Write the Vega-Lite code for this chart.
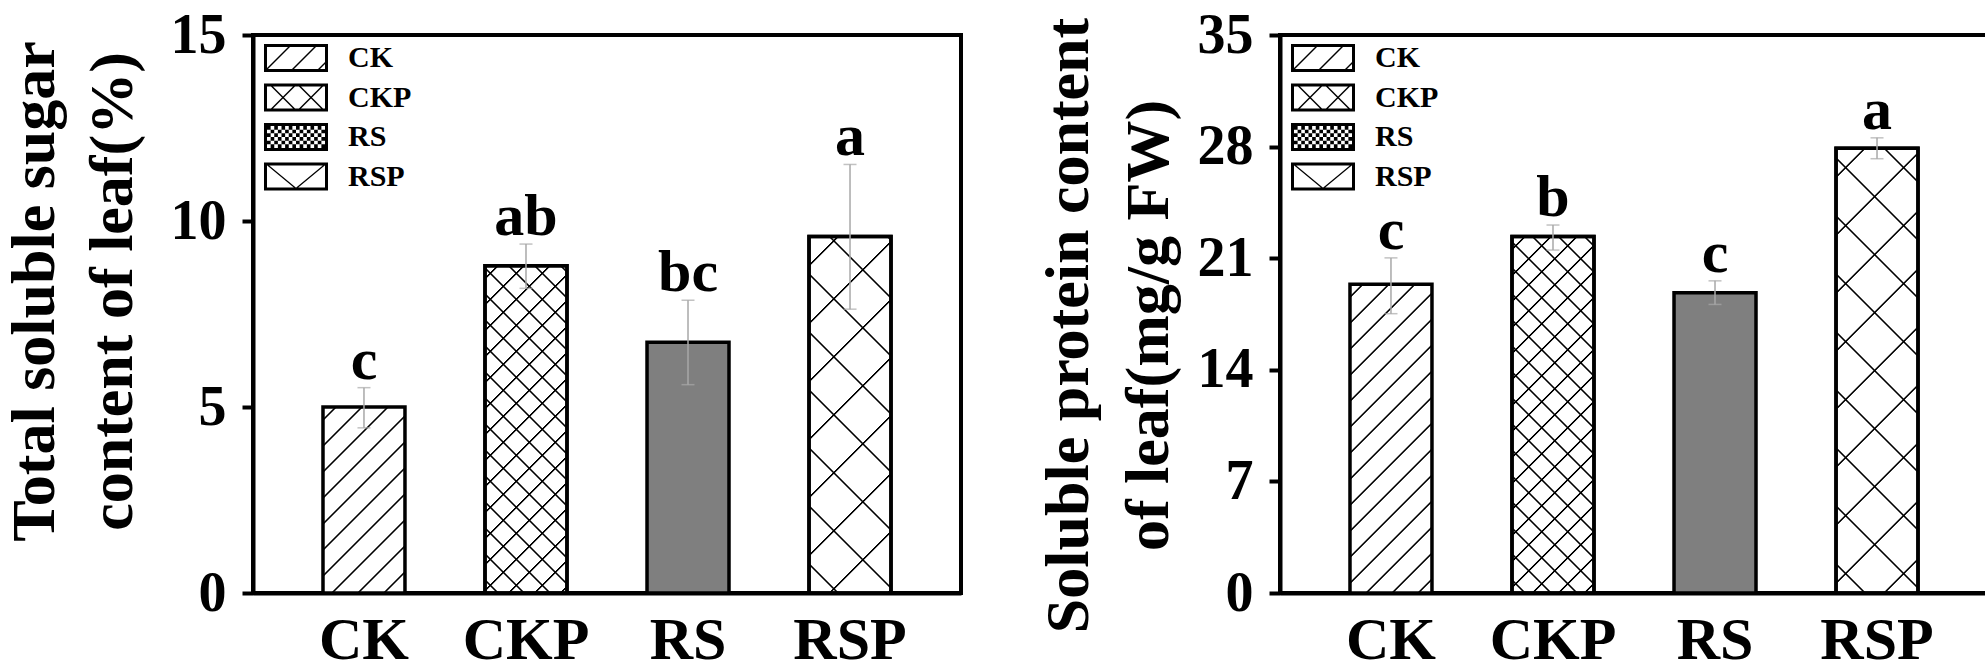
{
  "$schema": "https://vega.github.io/schema/vega-lite/v6.json",
  "padding": {"left": 0, "top": 5, "right": 0, "bottom": 0},
  "background": "white",
  "params": [
    {"name": "dW", "value": [
      {"offset":0,"color":"#fff"},
      {"offset":0.02111,"color":"#fff"},{"offset":0.02296,"color":"#000"},{"offset":0.02519,"color":"#000"},{"offset":0.02704,"color":"#fff"},
      {"offset":0.06926,"color":"#fff"},{"offset":0.07111,"color":"#000"},{"offset":0.07333,"color":"#000"},{"offset":0.07519,"color":"#fff"},
      {"offset":0.11741,"color":"#fff"},{"offset":0.11926,"color":"#000"},{"offset":0.12148,"color":"#000"},{"offset":0.12333,"color":"#fff"},
      {"offset":0.16556,"color":"#fff"},{"offset":0.16741,"color":"#000"},{"offset":0.16963,"color":"#000"},{"offset":0.17148,"color":"#fff"},
      {"offset":0.2137,"color":"#fff"},{"offset":0.21556,"color":"#000"},{"offset":0.21778,"color":"#000"},{"offset":0.21963,"color":"#fff"},
      {"offset":0.26185,"color":"#fff"},{"offset":0.2637,"color":"#000"},{"offset":0.26593,"color":"#000"},{"offset":0.26778,"color":"#fff"},
      {"offset":0.31,"color":"#fff"},{"offset":0.31185,"color":"#000"},{"offset":0.31407,"color":"#000"},{"offset":0.31593,"color":"#fff"},
      {"offset":0.35815,"color":"#fff"},{"offset":0.36,"color":"#000"},{"offset":0.36222,"color":"#000"},{"offset":0.36407,"color":"#fff"},
      {"offset":0.4063,"color":"#fff"},{"offset":0.40815,"color":"#000"},{"offset":0.41037,"color":"#000"},{"offset":0.41222,"color":"#fff"},
      {"offset":0.45444,"color":"#fff"},{"offset":0.4563,"color":"#000"},{"offset":0.45852,"color":"#000"},{"offset":0.46037,"color":"#fff"},
      {"offset":0.50259,"color":"#fff"},{"offset":0.50444,"color":"#000"},{"offset":0.50667,"color":"#000"},{"offset":0.50852,"color":"#fff"},
      {"offset":0.55074,"color":"#fff"},{"offset":0.55259,"color":"#000"},{"offset":0.55481,"color":"#000"},{"offset":0.55667,"color":"#fff"},
      {"offset":0.59889,"color":"#fff"},{"offset":0.60074,"color":"#000"},{"offset":0.60296,"color":"#000"},{"offset":0.60481,"color":"#fff"},
      {"offset":0.64704,"color":"#fff"},{"offset":0.64889,"color":"#000"},{"offset":0.65111,"color":"#000"},{"offset":0.65296,"color":"#fff"},
      {"offset":0.69519,"color":"#fff"},{"offset":0.69704,"color":"#000"},{"offset":0.69926,"color":"#000"},{"offset":0.70111,"color":"#fff"},
      {"offset":0.74333,"color":"#fff"},{"offset":0.74519,"color":"#000"},{"offset":0.74741,"color":"#000"},{"offset":0.74926,"color":"#fff"},
      {"offset":0.79148,"color":"#fff"},{"offset":0.79333,"color":"#000"},{"offset":0.79556,"color":"#000"},{"offset":0.79741,"color":"#fff"},
      {"offset":0.83963,"color":"#fff"},{"offset":0.84148,"color":"#000"},{"offset":0.8437,"color":"#000"},{"offset":0.84556,"color":"#fff"},
      {"offset":0.88778,"color":"#fff"},{"offset":0.88963,"color":"#000"},{"offset":0.89185,"color":"#000"},{"offset":0.8937,"color":"#fff"},
      {"offset":0.93593,"color":"#fff"},{"offset":0.93778,"color":"#000"},{"offset":0.94,"color":"#000"},{"offset":0.94185,"color":"#fff"},
      {"offset":0.98407,"color":"#fff"},{"offset":0.98593,"color":"#000"},{"offset":0.98815,"color":"#000"},{"offset":0.99,"color":"#fff"}
    ]},
    {"name": "dT", "value": [
      {"offset":0,"color":"transparent"},
      {"offset":0.02111,"color":"transparent"},{"offset":0.02296,"color":"#000"},{"offset":0.02519,"color":"#000"},{"offset":0.02704,"color":"transparent"},
      {"offset":0.06926,"color":"transparent"},{"offset":0.07111,"color":"#000"},{"offset":0.07333,"color":"#000"},{"offset":0.07519,"color":"transparent"},
      {"offset":0.11741,"color":"transparent"},{"offset":0.11926,"color":"#000"},{"offset":0.12148,"color":"#000"},{"offset":0.12333,"color":"transparent"},
      {"offset":0.16556,"color":"transparent"},{"offset":0.16741,"color":"#000"},{"offset":0.16963,"color":"#000"},{"offset":0.17148,"color":"transparent"},
      {"offset":0.2137,"color":"transparent"},{"offset":0.21556,"color":"#000"},{"offset":0.21778,"color":"#000"},{"offset":0.21963,"color":"transparent"},
      {"offset":0.26185,"color":"transparent"},{"offset":0.2637,"color":"#000"},{"offset":0.26593,"color":"#000"},{"offset":0.26778,"color":"transparent"},
      {"offset":0.31,"color":"transparent"},{"offset":0.31185,"color":"#000"},{"offset":0.31407,"color":"#000"},{"offset":0.31593,"color":"transparent"},
      {"offset":0.35815,"color":"transparent"},{"offset":0.36,"color":"#000"},{"offset":0.36222,"color":"#000"},{"offset":0.36407,"color":"transparent"},
      {"offset":0.4063,"color":"transparent"},{"offset":0.40815,"color":"#000"},{"offset":0.41037,"color":"#000"},{"offset":0.41222,"color":"transparent"},
      {"offset":0.45444,"color":"transparent"},{"offset":0.4563,"color":"#000"},{"offset":0.45852,"color":"#000"},{"offset":0.46037,"color":"transparent"},
      {"offset":0.50259,"color":"transparent"},{"offset":0.50444,"color":"#000"},{"offset":0.50667,"color":"#000"},{"offset":0.50852,"color":"transparent"},
      {"offset":0.55074,"color":"transparent"},{"offset":0.55259,"color":"#000"},{"offset":0.55481,"color":"#000"},{"offset":0.55667,"color":"transparent"},
      {"offset":0.59889,"color":"transparent"},{"offset":0.60074,"color":"#000"},{"offset":0.60296,"color":"#000"},{"offset":0.60481,"color":"transparent"},
      {"offset":0.64704,"color":"transparent"},{"offset":0.64889,"color":"#000"},{"offset":0.65111,"color":"#000"},{"offset":0.65296,"color":"transparent"},
      {"offset":0.69519,"color":"transparent"},{"offset":0.69704,"color":"#000"},{"offset":0.69926,"color":"#000"},{"offset":0.70111,"color":"transparent"},
      {"offset":0.74333,"color":"transparent"},{"offset":0.74519,"color":"#000"},{"offset":0.74741,"color":"#000"},{"offset":0.74926,"color":"transparent"},
      {"offset":0.79148,"color":"transparent"},{"offset":0.79333,"color":"#000"},{"offset":0.79556,"color":"#000"},{"offset":0.79741,"color":"transparent"},
      {"offset":0.83963,"color":"transparent"},{"offset":0.84148,"color":"#000"},{"offset":0.8437,"color":"#000"},{"offset":0.84556,"color":"transparent"},
      {"offset":0.88778,"color":"transparent"},{"offset":0.88963,"color":"#000"},{"offset":0.89185,"color":"#000"},{"offset":0.8937,"color":"transparent"},
      {"offset":0.93593,"color":"transparent"},{"offset":0.93778,"color":"#000"},{"offset":0.94,"color":"#000"},{"offset":0.94185,"color":"transparent"},
      {"offset":0.98407,"color":"transparent"},{"offset":0.98593,"color":"#000"},{"offset":0.98815,"color":"#000"},{"offset":0.99,"color":"transparent"}
    ]},
    {"name": "sW", "value": [
      {"offset":0,"color":"#fff"},
      {"offset":0.05074,"color":"#fff"},{"offset":0.05259,"color":"#000"},{"offset":0.05481,"color":"#000"},{"offset":0.05667,"color":"#fff"},
      {"offset":0.15815,"color":"#fff"},{"offset":0.16,"color":"#000"},{"offset":0.16222,"color":"#000"},{"offset":0.16407,"color":"#fff"},
      {"offset":0.26556,"color":"#fff"},{"offset":0.26741,"color":"#000"},{"offset":0.26963,"color":"#000"},{"offset":0.27148,"color":"#fff"},
      {"offset":0.37296,"color":"#fff"},{"offset":0.37481,"color":"#000"},{"offset":0.37704,"color":"#000"},{"offset":0.37889,"color":"#fff"},
      {"offset":0.48037,"color":"#fff"},{"offset":0.48222,"color":"#000"},{"offset":0.48444,"color":"#000"},{"offset":0.4863,"color":"#fff"},
      {"offset":0.58778,"color":"#fff"},{"offset":0.58963,"color":"#000"},{"offset":0.59185,"color":"#000"},{"offset":0.5937,"color":"#fff"},
      {"offset":0.69519,"color":"#fff"},{"offset":0.69704,"color":"#000"},{"offset":0.69926,"color":"#000"},{"offset":0.70111,"color":"#fff"},
      {"offset":0.80259,"color":"#fff"},{"offset":0.80444,"color":"#000"},{"offset":0.80667,"color":"#000"},{"offset":0.80852,"color":"#fff"},
      {"offset":0.91,"color":"#fff"},{"offset":0.91185,"color":"#000"},{"offset":0.91407,"color":"#000"},{"offset":0.91593,"color":"#fff"}
    ]},
    {"name": "sT", "value": [
      {"offset":0,"color":"transparent"},
      {"offset":0.05074,"color":"transparent"},{"offset":0.05259,"color":"#000"},{"offset":0.05481,"color":"#000"},{"offset":0.05667,"color":"transparent"},
      {"offset":0.15815,"color":"transparent"},{"offset":0.16,"color":"#000"},{"offset":0.16222,"color":"#000"},{"offset":0.16407,"color":"transparent"},
      {"offset":0.26556,"color":"transparent"},{"offset":0.26741,"color":"#000"},{"offset":0.26963,"color":"#000"},{"offset":0.27148,"color":"transparent"},
      {"offset":0.37296,"color":"transparent"},{"offset":0.37481,"color":"#000"},{"offset":0.37704,"color":"#000"},{"offset":0.37889,"color":"transparent"},
      {"offset":0.48037,"color":"transparent"},{"offset":0.48222,"color":"#000"},{"offset":0.48444,"color":"#000"},{"offset":0.4863,"color":"transparent"},
      {"offset":0.58778,"color":"transparent"},{"offset":0.58963,"color":"#000"},{"offset":0.59185,"color":"#000"},{"offset":0.5937,"color":"transparent"},
      {"offset":0.69519,"color":"transparent"},{"offset":0.69704,"color":"#000"},{"offset":0.69926,"color":"#000"},{"offset":0.70111,"color":"transparent"},
      {"offset":0.80259,"color":"transparent"},{"offset":0.80444,"color":"#000"},{"offset":0.80667,"color":"#000"},{"offset":0.80852,"color":"transparent"},
      {"offset":0.91,"color":"transparent"},{"offset":0.91185,"color":"#000"},{"offset":0.91407,"color":"#000"},{"offset":0.91593,"color":"transparent"}
    ]}
  ],
  "datasets": {
    "sugar": [
      {"g": "CK", "v": 5.0, "lo": 4.44, "hi": 5.52, "lab": "c"},
      {"g": "CKP", "v": 8.8, "lo": 8.19, "hi": 9.38, "lab": "ab"},
      {"g": "RS", "v": 6.74, "lo": 5.6, "hi": 7.87, "lab": "bc"},
      {"g": "RSP", "v": 9.58, "lo": 7.63, "hi": 11.52, "lab": "a"}
    ],
    "protein": [
      {"g": "CK", "v": 19.37, "lo": 17.52, "hi": 21.02, "lab": "c"},
      {"g": "CKP", "v": 22.36, "lo": 21.51, "hi": 23.08, "lab": "b"},
      {"g": "RS", "v": 18.84, "lo": 18.1, "hi": 19.58, "lab": "c"},
      {"g": "RSP", "v": 27.9, "lo": 27.24, "hi": 28.55, "lab": "a"}
    ]
  },
  "spacing": 71,
  "resolve": {"scale": {"shape": "independent"}, "legend": {"shape": "independent"}},
  "hconcat": [
    {
      "width": 708,
      "height": 558,
      "data": {"name": "sugar"},
      "encoding": {
        "x": {"field": "g", "type": "nominal", "scale": {"paddingInner": 0.494, "paddingOuter": 0.432},
              "axis": {"title": null, "labelAngle": 0, "ticks": false, "labelFontSize": 60, "labelPadding": 18}}
      },
      "layer": [
        {
          "mark": {"type": "bar", "stroke": "black", "strokeWidth": 3.5,
            "fill": {"expr": "datum.g == 'RS' ? '#7f7f7f' : {gradient: 'linear', x1: 0, y1: 0, x2: 44280 / (6724 + pow(datum.v * 37.2, 2)), y2: 540 * datum.v * 37.2 / (6724 + pow(datum.v * 37.2, 2)), stops: datum.g == 'RSP' ? sW : dW}"}},
          "encoding": {
            "y": {"field": "v", "type": "quantitative", "scale": {"domain": [0, 15], "nice": false},
                  "axis": {"title": ["Total soluble sugar", "content of leaf(%)"], "values": [0, 5, 10, 15], "titleX": -187, "titleY": 256, "titleLineHeight": 78}}
          }
        },
        {
          "transform": [{"filter": {"field": "g", "oneOf": ["CKP", "RSP"]}}],
          "mark": {"type": "bar", "stroke": "black", "strokeWidth": 3.5,
            "fill": {"expr": "{gradient: 'linear', x1: 0, y1: 1, x2: 44280 / (6724 + pow(datum.v * 37.2, 2)), y2: 1 - 540 * datum.v * 37.2 / (6724 + pow(datum.v * 37.2, 2)), stops: datum.g == 'RSP' ? sT : dT}"}},
          "encoding": {"y": {"field": "v", "type": "quantitative",
                  "axis": {"title": ["Total soluble sugar", "content of leaf(%)"], "values": [0, 5, 10, 15], "titleX": -187, "titleY": 256, "titleLineHeight": 78}}}
        },
        {
          "mark": {"type": "errorbar", "color": "#a8a8a8", "thickness": 1.5, "ticks": {"size": 13}},
          "encoding": {"y": {"field": "lo", "type": "quantitative",
                  "axis": {"title": ["Total soluble sugar", "content of leaf(%)"], "values": [0, 5, 10, 15], "titleX": -187, "titleY": 256, "titleLineHeight": 78}}, "y2": {"field": "hi"}}
        },
        {
          "mark": {"type": "text", "dy": -9, "baseline": "alphabetic", "fontSize": 60, "fontWeight": "bold", "font": "Liberation Serif", "color": "black"},
          "encoding": {"y": {"field": "hi", "type": "quantitative",
                  "axis": {"title": ["Total soluble sugar", "content of leaf(%)"], "values": [0, 5, 10, 15], "titleX": -187, "titleY": 256, "titleLineHeight": 78}}, "text": {"field": "lab"}}
        },
        {
          "mark": {"type": "point", "filled": true, "opacity": 0, "color": "black"},
          "encoding": {
            "y": {"field": "v", "type": "quantitative",
                  "axis": {"title": ["Total soluble sugar", "content of leaf(%)"], "values": [0, 5, 10, 15], "titleX": -187, "titleY": 256, "titleLineHeight": 78}},
            "shape": {"field": "g", "type": "nominal",
              "scale": {"domain": ["CK", "CKP", "RS", "RSP"], "range": [
                "M-2.2857,-1H2.2857V1H-2.2857ZM-2.0714,-0.7857V0.7857H2.0714V-0.7857ZM-2.2143,0.8571L-0.5,-0.8571L-0.3571,-0.8571L-2.0714,0.8571ZM-0.3571,0.8571L1.3571,-0.8571L1.5,-0.8571L-0.2143,0.8571ZM1.5,0.8571L2.2143,0.1429L2.2143,0.2857L1.6429,0.8571Z",
                "M-2.2857,-1H2.2857V1H-2.2857ZM-2.0714,-0.7857V0.7857H2.0714V-0.7857ZM-1.8571,0.8571L-0.1429,-0.8571L0,-0.8571L-1.7143,0.8571ZM0.1429,0.8571L1.8571,-0.8571L2,-0.8571L0.2857,0.8571ZM-1.8571,-0.8571L-1.7143,-0.8571L0,0.8571L-0.1429,0.8571ZM0.1429,-0.8571L0.2857,-0.8571L2,0.8571L1.8571,0.8571Z",
                "M-2.2857,-1H2.2857V1H-2.2857ZM-2.0714,-0.7857V0.7857H2.0714V-0.7857ZM-2.0714,-0.7857h0.2589v0.2619h-0.2589v-0.2619zm0.5179,0h0.2589v0.2619h-0.2589v-0.2619zm0.5179,0h0.2589v0.2619h-0.2589v-0.2619zm0.5179,0h0.2589v0.2619h-0.2589v-0.2619zm0.5179,0h0.2589v0.2619h-0.2589v-0.2619zm0.5179,0h0.2589v0.2619h-0.2589v-0.2619zm0.5179,0h0.2589v0.2619h-0.2589v-0.2619zm0.5179,0h0.2589v0.2619h-0.2589v-0.2619zM-1.8125,-0.5238h0.2589v0.2619h-0.2589v-0.2619zm0.5179,0h0.2589v0.2619h-0.2589v-0.2619zm0.5179,0h0.2589v0.2619h-0.2589v-0.2619zm0.5179,0h0.2589v0.2619h-0.2589v-0.2619zm0.5179,0h0.2589v0.2619h-0.2589v-0.2619zm0.5179,0h0.2589v0.2619h-0.2589v-0.2619zm0.5179,0h0.2589v0.2619h-0.2589v-0.2619zm0.5179,0h0.2589v0.2619h-0.2589v-0.2619zM-2.0714,-0.2619h0.2589v0.2619h-0.2589v-0.2619zm0.5179,0h0.2589v0.2619h-0.2589v-0.2619zm0.5179,0h0.2589v0.2619h-0.2589v-0.2619zm0.5179,0h0.2589v0.2619h-0.2589v-0.2619zm0.5179,0h0.2589v0.2619h-0.2589v-0.2619zm0.5179,0h0.2589v0.2619h-0.2589v-0.2619zm0.5179,0h0.2589v0.2619h-0.2589v-0.2619zm0.5179,0h0.2589v0.2619h-0.2589v-0.2619zM-1.8125,0h0.2589v0.2619h-0.2589v-0.2619zm0.5179,0h0.2589v0.2619h-0.2589v-0.2619zm0.5179,0h0.2589v0.2619h-0.2589v-0.2619zm0.5179,0h0.2589v0.2619h-0.2589v-0.2619zm0.5179,0h0.2589v0.2619h-0.2589v-0.2619zm0.5179,0h0.2589v0.2619h-0.2589v-0.2619zm0.5179,0h0.2589v0.2619h-0.2589v-0.2619zm0.5179,0h0.2589v0.2619h-0.2589v-0.2619zM-2.0714,0.2619h0.2589v0.2619h-0.2589v-0.2619zm0.5179,0h0.2589v0.2619h-0.2589v-0.2619zm0.5179,0h0.2589v0.2619h-0.2589v-0.2619zm0.5179,0h0.2589v0.2619h-0.2589v-0.2619zm0.5179,0h0.2589v0.2619h-0.2589v-0.2619zm0.5179,0h0.2589v0.2619h-0.2589v-0.2619zm0.5179,0h0.2589v0.2619h-0.2589v-0.2619zm0.5179,0h0.2589v0.2619h-0.2589v-0.2619zM-1.8125,0.5238h0.2589v0.2619h-0.2589v-0.2619zm0.5179,0h0.2589v0.2619h-0.2589v-0.2619zm0.5179,0h0.2589v0.2619h-0.2589v-0.2619zm0.5179,0h0.2589v0.2619h-0.2589v-0.2619zm0.5179,0h0.2589v0.2619h-0.2589v-0.2619zm0.5179,0h0.2589v0.2619h-0.2589v-0.2619zm0.5179,0h0.2589v0.2619h-0.2589v-0.2619zm0.5179,0h0.2589v0.2619h-0.2589v-0.2619z",
                "M-2.2857,-1H2.2857V1H-2.2857ZM-2.0714,-0.7857V0.7857H2.0714V-0.7857ZM-2.1429,-0.8571L-2,-0.8571L0.0714,0.8571L-0.0714,0.8571ZM-0.0714,0.8571L2,-0.8571L2.1429,-0.8571L0.0714,0.8571Z"
              ]},
              "legend": {"title": null, "orient": "none", "legendX": 10, "legendY": 8, "symbolSize": 784, "symbolOffset": 18, "labelOffset": 37, "rowPadding": 9.5, "padding": 0,
                         "labelFont": "Liberation Serif", "labelFontSize": 30, "labelFontWeight": "bold", "labelColor": "black",
                         "symbolOpacity": 1, "symbolStrokeWidth": 0, "symbolFillColor": "black"}
            }
          }
        }
      ]
    },
    {
      "width": 708,
      "height": 558,
      "data": {"name": "protein"},
      "encoding": {
        "x": {"field": "g", "type": "nominal", "scale": {"paddingInner": 0.494, "paddingOuter": 0.432},
              "axis": {"title": null, "labelAngle": 0, "ticks": false, "labelFontSize": 60, "labelPadding": 18}}
      },
      "layer": [
        {
          "mark": {"type": "bar", "stroke": "black", "strokeWidth": 3.5,
            "fill": {"expr": "datum.g == 'RS' ? '#7f7f7f' : {gradient: 'linear', x1: 0, y1: 0, x2: 44280 / (6724 + pow(datum.v * 15.943, 2)), y2: 540 * datum.v * 15.943 / (6724 + pow(datum.v * 15.943, 2)), stops: datum.g == 'RSP' ? sW : dW}"}},
          "encoding": {
            "y": {"field": "v", "type": "quantitative", "scale": {"domain": [0, 35], "nice": false},
                  "axis": {"title": ["Soluble protein content", "of leaf(mg/g FW)"], "values": [0, 7, 14, 21, 28, 35], "titleX": -180, "titleY": 290, "titleLineHeight": 80}}
          }
        },
        {
          "transform": [{"filter": {"field": "g", "oneOf": ["CKP", "RSP"]}}],
          "mark": {"type": "bar", "stroke": "black", "strokeWidth": 3.5,
            "fill": {"expr": "{gradient: 'linear', x1: 0, y1: 1, x2: 44280 / (6724 + pow(datum.v * 15.943, 2)), y2: 1 - 540 * datum.v * 15.943 / (6724 + pow(datum.v * 15.943, 2)), stops: datum.g == 'RSP' ? sT : dT}"}},
          "encoding": {"y": {"field": "v", "type": "quantitative",
                  "axis": {"title": ["Soluble protein content", "of leaf(mg/g FW)"], "values": [0, 7, 14, 21, 28, 35], "titleX": -180, "titleY": 290, "titleLineHeight": 80}}}
        },
        {
          "mark": {"type": "errorbar", "color": "#a8a8a8", "thickness": 1.5, "ticks": {"size": 13}},
          "encoding": {"y": {"field": "lo", "type": "quantitative",
                  "axis": {"title": ["Soluble protein content", "of leaf(mg/g FW)"], "values": [0, 7, 14, 21, 28, 35], "titleX": -180, "titleY": 290, "titleLineHeight": 80}}, "y2": {"field": "hi"}}
        },
        {
          "mark": {"type": "text", "dy": -9, "baseline": "alphabetic", "fontSize": 60, "fontWeight": "bold", "font": "Liberation Serif", "color": "black"},
          "encoding": {"y": {"field": "hi", "type": "quantitative",
                  "axis": {"title": ["Soluble protein content", "of leaf(mg/g FW)"], "values": [0, 7, 14, 21, 28, 35], "titleX": -180, "titleY": 290, "titleLineHeight": 80}}, "text": {"field": "lab"}}
        },
        {
          "mark": {"type": "point", "filled": true, "opacity": 0, "color": "black"},
          "encoding": {
            "y": {"field": "v", "type": "quantitative",
                  "axis": {"title": ["Soluble protein content", "of leaf(mg/g FW)"], "values": [0, 7, 14, 21, 28, 35], "titleX": -180, "titleY": 290, "titleLineHeight": 80}},
            "shape": {"field": "g", "type": "nominal",
              "scale": {"domain": ["CK", "CKP", "RS", "RSP"], "range": [
                "M-2.2857,-1H2.2857V1H-2.2857ZM-2.0714,-0.7857V0.7857H2.0714V-0.7857ZM-2.2143,0.8571L-0.5,-0.8571L-0.3571,-0.8571L-2.0714,0.8571ZM-0.3571,0.8571L1.3571,-0.8571L1.5,-0.8571L-0.2143,0.8571ZM1.5,0.8571L2.2143,0.1429L2.2143,0.2857L1.6429,0.8571Z",
                "M-2.2857,-1H2.2857V1H-2.2857ZM-2.0714,-0.7857V0.7857H2.0714V-0.7857ZM-1.8571,0.8571L-0.1429,-0.8571L0,-0.8571L-1.7143,0.8571ZM0.1429,0.8571L1.8571,-0.8571L2,-0.8571L0.2857,0.8571ZM-1.8571,-0.8571L-1.7143,-0.8571L0,0.8571L-0.1429,0.8571ZM0.1429,-0.8571L0.2857,-0.8571L2,0.8571L1.8571,0.8571Z",
                "M-2.2857,-1H2.2857V1H-2.2857ZM-2.0714,-0.7857V0.7857H2.0714V-0.7857ZM-2.0714,-0.7857h0.2589v0.2619h-0.2589v-0.2619zm0.5179,0h0.2589v0.2619h-0.2589v-0.2619zm0.5179,0h0.2589v0.2619h-0.2589v-0.2619zm0.5179,0h0.2589v0.2619h-0.2589v-0.2619zm0.5179,0h0.2589v0.2619h-0.2589v-0.2619zm0.5179,0h0.2589v0.2619h-0.2589v-0.2619zm0.5179,0h0.2589v0.2619h-0.2589v-0.2619zm0.5179,0h0.2589v0.2619h-0.2589v-0.2619zM-1.8125,-0.5238h0.2589v0.2619h-0.2589v-0.2619zm0.5179,0h0.2589v0.2619h-0.2589v-0.2619zm0.5179,0h0.2589v0.2619h-0.2589v-0.2619zm0.5179,0h0.2589v0.2619h-0.2589v-0.2619zm0.5179,0h0.2589v0.2619h-0.2589v-0.2619zm0.5179,0h0.2589v0.2619h-0.2589v-0.2619zm0.5179,0h0.2589v0.2619h-0.2589v-0.2619zm0.5179,0h0.2589v0.2619h-0.2589v-0.2619zM-2.0714,-0.2619h0.2589v0.2619h-0.2589v-0.2619zm0.5179,0h0.2589v0.2619h-0.2589v-0.2619zm0.5179,0h0.2589v0.2619h-0.2589v-0.2619zm0.5179,0h0.2589v0.2619h-0.2589v-0.2619zm0.5179,0h0.2589v0.2619h-0.2589v-0.2619zm0.5179,0h0.2589v0.2619h-0.2589v-0.2619zm0.5179,0h0.2589v0.2619h-0.2589v-0.2619zm0.5179,0h0.2589v0.2619h-0.2589v-0.2619zM-1.8125,0h0.2589v0.2619h-0.2589v-0.2619zm0.5179,0h0.2589v0.2619h-0.2589v-0.2619zm0.5179,0h0.2589v0.2619h-0.2589v-0.2619zm0.5179,0h0.2589v0.2619h-0.2589v-0.2619zm0.5179,0h0.2589v0.2619h-0.2589v-0.2619zm0.5179,0h0.2589v0.2619h-0.2589v-0.2619zm0.5179,0h0.2589v0.2619h-0.2589v-0.2619zm0.5179,0h0.2589v0.2619h-0.2589v-0.2619zM-2.0714,0.2619h0.2589v0.2619h-0.2589v-0.2619zm0.5179,0h0.2589v0.2619h-0.2589v-0.2619zm0.5179,0h0.2589v0.2619h-0.2589v-0.2619zm0.5179,0h0.2589v0.2619h-0.2589v-0.2619zm0.5179,0h0.2589v0.2619h-0.2589v-0.2619zm0.5179,0h0.2589v0.2619h-0.2589v-0.2619zm0.5179,0h0.2589v0.2619h-0.2589v-0.2619zm0.5179,0h0.2589v0.2619h-0.2589v-0.2619zM-1.8125,0.5238h0.2589v0.2619h-0.2589v-0.2619zm0.5179,0h0.2589v0.2619h-0.2589v-0.2619zm0.5179,0h0.2589v0.2619h-0.2589v-0.2619zm0.5179,0h0.2589v0.2619h-0.2589v-0.2619zm0.5179,0h0.2589v0.2619h-0.2589v-0.2619zm0.5179,0h0.2589v0.2619h-0.2589v-0.2619zm0.5179,0h0.2589v0.2619h-0.2589v-0.2619zm0.5179,0h0.2589v0.2619h-0.2589v-0.2619z",
                "M-2.2857,-1H2.2857V1H-2.2857ZM-2.0714,-0.7857V0.7857H2.0714V-0.7857ZM-2.1429,-0.8571L-2,-0.8571L0.0714,0.8571L-0.0714,0.8571ZM-0.0714,0.8571L2,-0.8571L2.1429,-0.8571L0.0714,0.8571Z"
              ]},
              "legend": {"title": null, "orient": "none", "legendX": 10, "legendY": 8, "symbolSize": 784, "symbolOffset": 18, "labelOffset": 37, "rowPadding": 9.5, "padding": 0,
                         "labelFont": "Liberation Serif", "labelFontSize": 30, "labelFontWeight": "bold", "labelColor": "black",
                         "symbolOpacity": 1, "symbolStrokeWidth": 0, "symbolFillColor": "black"}
            }
          }
        }
      ]
    }
  ],
  "config": {
    "view": {"stroke": "black", "strokeWidth": 4},
    "font": "Liberation Serif",
    "axis": {"domainColor": "black", "domainWidth": 4, "tickColor": "black", "tickWidth": 4, "tickSize": 11,
             "labelFont": "Liberation Serif", "labelFontWeight": "bold", "labelColor": "black", "labelFontSize": 56,
             "titleFont": "Liberation Serif", "titleFontWeight": "bold", "titleColor": "black", "grid": false},
    "axisY": {"labelPadding": 16, "titleFontSize": 62}
  }
}
